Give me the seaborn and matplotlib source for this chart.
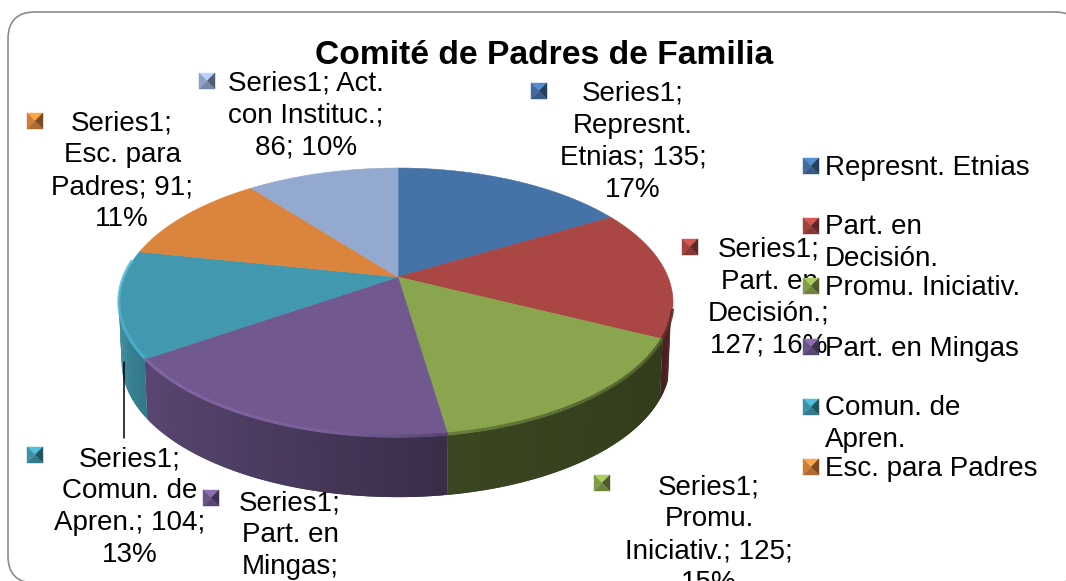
import numpy as np
import matplotlib
matplotlib.use("Agg")
import matplotlib.pyplot as plt
from matplotlib.patches import FancyBboxPatch
from matplotlib.collections import LineCollection
import seaborn as sns

# ---------- data ----------
title = "Comité de Padres de Familia"
series_name = "Series1"
categories = ["Represnt. Etnias", "Part. en Decisión.", "Promu. Iniciativ.",
              "Part. en Mingas", "Comun. de Apren.", "Esc. para Padres", "Act. con Instituc."]
values = [135, 127, 125, 145, 104, 91, 86]
percents = [17, 16, 15, 18, 13, 11, 10]
label_text = [
    "Series1;\nRepresnt.\nEtnias; 135;\n17%",
    "Series1;\nPart. en\nDecisión.;\n127; 16%",
    "Series1;\nPromu.\nIniciativ.; 125;\n15%",
    "Series1;\nPart. en\nMingas;",
    "Series1;\nComun. de\nApren.; 104;\n13%",
    "Series1;\nEsc. para\nPadres; 91;\n11%",
    "Series1; Act.\ncon Instituc.;\n86; 10%",
]
legend_text = ["Represnt. Etnias", "Part. en\nDecisión.", "Promu. Iniciativ.",
               "Part. en Mingas", "Comun. de\nApren.", "Esc. para Padres"]
palette_hex = ["#4572A7", "#AA4643", "#89A54E", "#71588F", "#4198AF", "#DB843D", "#93A9CF"]

# ---------- layout (pixels) ----------
W, H = 1066, 581
CX, CY, RX_R, RX_L, RY, K, DEPTH = 398, 277, 270, 274, 129.7, 0.19, 60
label_pos = [(633, 81), (769, 237), (709, 474), (290, 490), (130, 446), (122, 110), (306, 70)]
label_marker = [(539, 91), (690, 247), (602, 483), (211, 498), (35, 455), (35, 121), (207, 81)]
legend_rows = [(166, 168), (226, 243), (286, 288), (347, 349), (407, 424), (467, 469)]
side_scale = [1, 1, .85, 1, 1, 1, 1]
FS = 20

sns.set_theme(style="white")
plt.rcParams["font.family"] = ["Liberation Sans", "DejaVu Sans"]
colors = sns.color_palette(palette_hex)

fig = plt.figure(figsize=(W / 100, H / 100), dpi=100)
ax = fig.add_axes([0, 0, 1, 1])
ax.set_xlim(0, W)
ax.set_ylim(H, 0)
ax.axis("off")


def project(theta):
    x, y = np.sin(theta), np.cos(theta)
    w = 1 + K * y
    rx = np.where(x >= 0, RX_R, RX_L)
    return CX + rx * x / w, CY - RY * y / w


def mul(c, f):
    c = np.array(c[:3]) * f
    return tuple(np.clip(c, 0, 1))


def marker(cx, cy, c, s=8, z=6):
    corners = [(cx - s, cy - s), (cx + s, cy - s), (cx + s, cy + s), (cx - s, cy + s)]
    shades = [1.25, .55, .8, .95]
    for i, f in enumerate(shades):
        a, b = corners[i], corners[(i + 1) % 4]
        ax.fill([a[0], b[0], cx], [a[1], b[1], cy], color=mul(c, f), lw=0.3, zorder=z)


# frame (runs off the right edge of the picture)
L, T, R, B, RAD = 8, 12, 1082, 583, 27
ax.add_patch(FancyBboxPatch((L + RAD, T + RAD), R - L - 2 * RAD, B - T - 2 * RAD,
                            boxstyle=f"round,pad={RAD},rounding_size={RAD}",
                            fc="white", ec="#8c8c8c", lw=1.2, zorder=0))

# pie
fracs = np.array(values, float) / np.sum(values)
edges = np.concatenate([[0], np.cumsum(fracs)]) * 2 * np.pi
SIDE_FROM, SIDE_TO = np.radians(108), np.radians(262)

# side walls: each strip overlaps the next one so no seams show
for i, c in enumerate(colors):
    th = np.linspace(edges[i], edges[i + 1], 100)
    for j in range(len(th) - 1):
        a, b = th[j], th[j + 1]
        m = (a + b) / 2
        if not (SIDE_FROM < m < SIDE_TO):
            continue
        b2 = th[min(j + 2, len(th) - 1)]
        xa, ya = project(a)
        xb, yb = project(b2)
        xa2 = CX + (xa - CX) * .99
        xb2 = CX + (xb - CX) * .99
        f = np.interp(np.sin(m), [-1, -.85, -.1, .18, 1], [.92, .8, .58, .5, .42]) * side_scale[i]
        ax.fill([xa, xb, xb2, xa2], [ya, yb, yb + DEPTH, ya + DEPTH],
                color=mul(c, f), lw=0, zorder=2)

# top faces
for i, c in enumerate(colors):
    th = np.linspace(edges[i], edges[i + 1], 160)
    xs, ys = project(th)
    ax.fill(np.r_[CX, xs], np.r_[CY, ys], color=c, lw=0.4, zorder=3)
    # bevel along the front rim
    segs, cols = [], []
    for a, b in zip(th[:-1], th[1:]):
        m = (a + b) / 2
        if np.cos(m) > .12 or np.sin(m) > .97:
            continue
        xa, ya = project(a)
        xb, yb = project(b)
        segs.append([(xa, ya - 1), (xb, yb - 1)])
        f = np.interp(np.sin(m), [-1, -.2, .2, 1], [1.2, 1.08, .72, .5])
        cols.append(mul(c, f))
    if segs:
        ax.add_collection(LineCollection(segs, colors=cols, linewidths=2.2, zorder=4))

# leader line
ax.plot([124, 124], [362, 438], color="black", lw=1.1, zorder=5)

# title
ax.text(544, 56, title, fontsize=24.2, fontweight="bold", color="black",
        ha="center", va="center", zorder=7)

# data labels
for txt, (x, y) in zip(label_text, label_pos):
    ax.text(x, y, txt, fontsize=FS, color="black", ha="center", va="top",
            linespacing=1.3, zorder=6, clip_on=False)
for (x, y), c in zip(label_marker, colors):
    marker(x, y, c)

# legend
for txt, (my, ty), c in zip(legend_text, legend_rows, colors):
    marker(811, my, c, z=8)
    ax.text(825, ty, txt, fontsize=FS, color="black", ha="left", va="center",
            linespacing=1.3, zorder=7)

fig.savefig("out.png", dpi=100)
